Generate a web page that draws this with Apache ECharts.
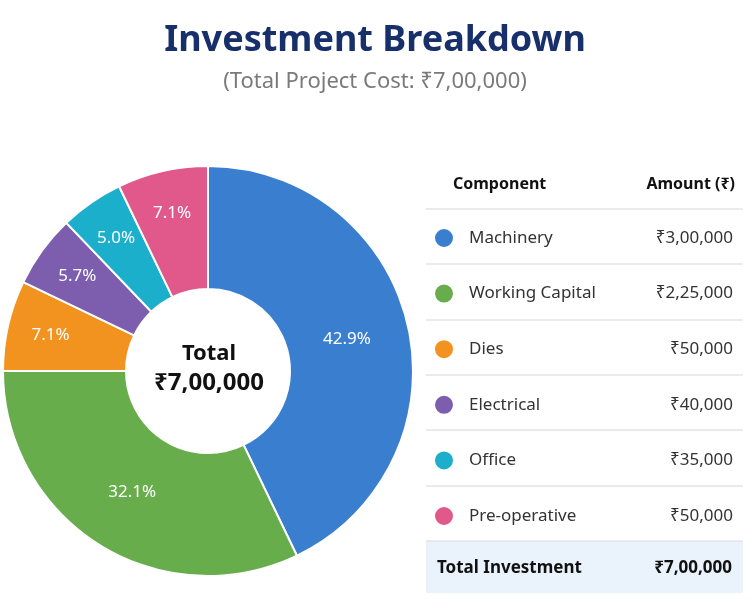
<!DOCTYPE html>
<html>
<head>
<meta charset="utf-8">
<script src="https://cdn.jsdelivr.net/npm/echarts@6/dist/echarts.min.js"></script>
<style>
  html, body { margin: 0; padding: 0; background: #fff; }
  #chart { width: 750px; height: 600px; }
</style>
</head>
<body>
<div id="chart"></div>
<script>
// data
const components = ["Machinery", "Working Capital", "Dies", "Electrical", "Office", "Pre-operative"];
const amounts = [300000, 225000, 50000, 40000, 35000, 50000];
const colors = ["#3a7fcf", "#68ad4b", "#f2931f", "#7c5dae", "#1cafcb", "#e0598a"];

const FONT = '"Noto Sans", "DejaVu Sans", sans-serif';
const total = amounts.reduce((a, b) => a + b, 0);
const pieCenter = [208, 371];

// indian grouping: 7,00,000
function inr(n) {
  const s = String(n);
  if (s.length <= 3) return "₹" + s;
  const last3 = s.slice(-3);
  const rest = s.slice(0, -3).replace(/\B(?=(\d{2})+(?!\d))/g, ",");
  return "₹" + rest + "," + last3;
}

const tblLeft = 426, tblRight = 743;
const lineYs = [209, 264, 320, 375, 430, 486, 541];

const chart = echarts.init(document.getElementById("chart"));

const graphics = [
  // centre text
  { type: "text", x: 209, y: 354, style: { text: "Total", align: "center", verticalAlign: "middle",
    font: "bold 22px " + FONT, fill: "#111" } },
  { type: "text", x: 209, y: 383, style: { text: inr(total), align: "center", verticalAlign: "middle",
    font: "bold 24px " + FONT, fill: "#111" } },
  // table header
  { type: "text", x: 453, y: 184, style: { text: "Component", align: "left", verticalAlign: "middle",
    font: "bold 16px " + FONT, fill: "#111" } },
  { type: "text", x: 735, y: 184, style: { text: "Amount (₹)", align: "right", verticalAlign: "middle",
    font: "bold 16px " + FONT, fill: "#111" } },
  // total row
  { type: "rect", shape: { x: tblLeft, y: 541, width: tblRight - tblLeft, height: 52 },
    style: { fill: "#eaf2fc" } },
  { type: "text", x: 437, y: 568, style: { text: "Total Investment", align: "left", verticalAlign: "middle",
    font: "bold 17px " + FONT, fill: "#111" } },
  { type: "text", x: 732, y: 568, style: { text: inr(total), align: "right", verticalAlign: "middle",
    font: "bold 17px " + FONT, fill: "#111" } }
];
lineYs.forEach(y => {
  graphics.push({ type: "line", shape: { x1: tblLeft, y1: y, x2: tblRight, y2: y },
    style: { stroke: "#e2e5ea", lineWidth: 1.5 } });
});

const option = {
  backgroundColor: "#ffffff",
  animation: false,
  color: colors,
  title: {
    text: "Investment Breakdown",
    subtext: "(Total Project Cost: " + inr(total) + ")",
    left: "center",
    top: 18,
    itemGap: 12,
    textStyle: { fontFamily: FONT, fontSize: 36, fontWeight: "bold", color: "#172f6a" },
    subtextStyle: { fontFamily: FONT, fontSize: 22, color: "#7a7a7a" }
  },
  legend: {
    orient: "vertical",
    left: 433,
    top: 227,
    padding: 0,
    icon: "circle",
    itemWidth: 20,
    itemHeight: 20,
    itemGap: 33.6,
    selectedMode: false,
    data: components,
    formatter: name => {
      const i = components.indexOf(name);
      return "{n|" + name + "}{v|" + inr(amounts[i]) + "}";
    },
    textStyle: {
      padding: [0, 0, 0, 10],
      rich: {
        n: { width: 154, fontFamily: FONT, fontSize: 17, color: "#333", lineHeight: 20 },
        v: { width: 110, align: "right", fontFamily: FONT, fontSize: 17, color: "#333", lineHeight: 20 }
      }
    }
  },
  series: [{
    type: "pie",
    center: pieCenter,
    radius: [82, 205],
    startAngle: 90,
    clockwise: true,
    avoidLabelOverlap: false,
    itemStyle: { borderColor: "#ffffff", borderWidth: 2 },
    emphasis: { disabled: true },
    label: {
      show: true,
      position: "inside",
      color: "#fff",
      fontFamily: FONT,
      fontSize: 17,
      formatter: p => (p.value / total * 100).toFixed(1) + "%"
    },
    labelLine: { show: false },
    // small slices carry their label a bit further out, as in the picture
    labelLayout: p => {
      const share = amounts[p.dataIndex] / total;
      const r = p.labelRect;
      const cx = r.x + r.width / 2, cy = r.y + r.height / 2;
      const dx = cx - pieCenter[0], dy = cy - pieCenter[1];
      const d = Math.sqrt(dx * dx + dy * dy);
      const push = share < 0.1 ? 15 : -4;
      return { x: pieCenter[0] + dx * (d + push) / d, y: pieCenter[1] + dy * (d + push) / d };
    },
    data: components.map((c, i) => ({ name: c, value: amounts[i] }))
  }],
  graphic: graphics
};

chart.setOption(option);
</script>
</body>
</html>
